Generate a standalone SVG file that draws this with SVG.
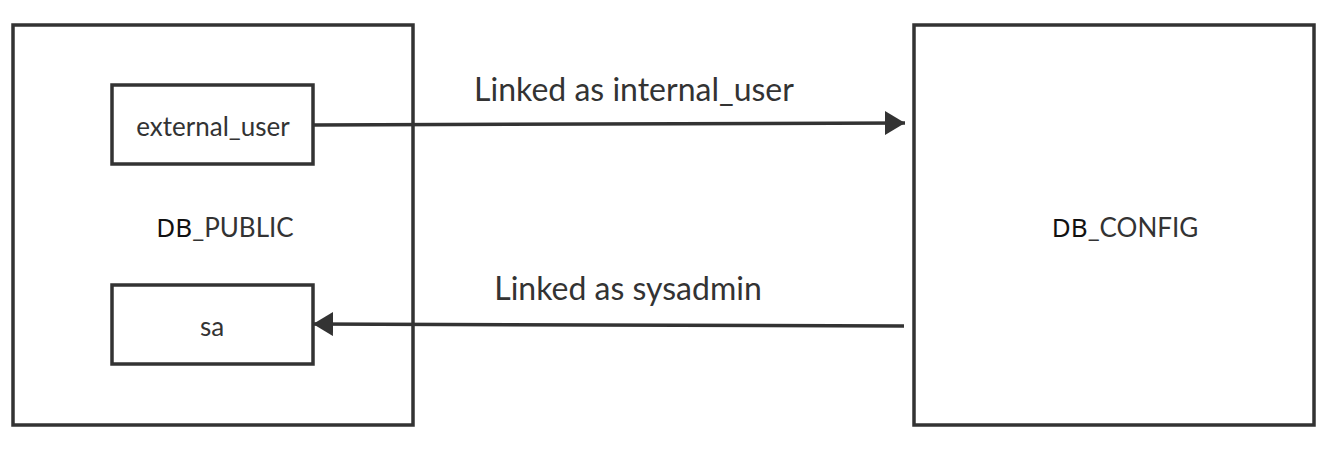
<svg xmlns="http://www.w3.org/2000/svg" width="1334" height="449" viewBox="0 0 1334 449">
<style>
.box{fill:#fff;stroke:#333;stroke-width:3.5}
.lbl{font-family:Lato,"Liberation Sans",sans-serif;fill:#333;text-anchor:middle}
.db{font-family:"Noto Sans","DejaVu Sans",sans-serif;fill:#111}
.edge{stroke:#333;stroke-width:3.5;fill:none}
</style>
<defs>
<marker id="arr" markerUnits="userSpaceOnUse" markerWidth="22" markerHeight="26" refX="20" refY="12" orient="auto">
<path d="M0,0 L20,12 L0,24 Z" fill="#333"/>
</marker>
</defs>
<g id="db_public">
<rect class="box" x="13" y="25" width="400" height="400"/>
<text class="lbl" x="225" y="237" font-size="26"><tspan class="db">DB</tspan>_PUBLIC</text>
</g>
<g id="external_user">
<rect class="box" x="112" y="85" width="201" height="79"/>
<text class="lbl" x="213" y="136" font-size="26">external_user</text>
</g>
<g id="sa">
<rect class="box" x="112" y="285" width="201" height="79"/>
<text class="lbl" x="212" y="336" font-size="26">sa</text>
</g>
<g id="db_config">
<rect class="box" x="914" y="25" width="400" height="400"/>
<text class="lbl" x="1125" y="237" font-size="26"><tspan class="db">DB</tspan>_CONFIG</text>
</g>
<g id="connectors">
<line class="edge" x1="313" y1="125" x2="905" y2="123" marker-end="url(#arr)"/>
<text class="lbl" x="634" y="101" font-size="32">Linked as internal_user</text>
<line class="edge" x1="904" y1="326" x2="313" y2="324" marker-end="url(#arr)"/>
<text class="lbl" x="628" y="300" font-size="32">Linked as sysadmin</text>
</g>
</svg>
